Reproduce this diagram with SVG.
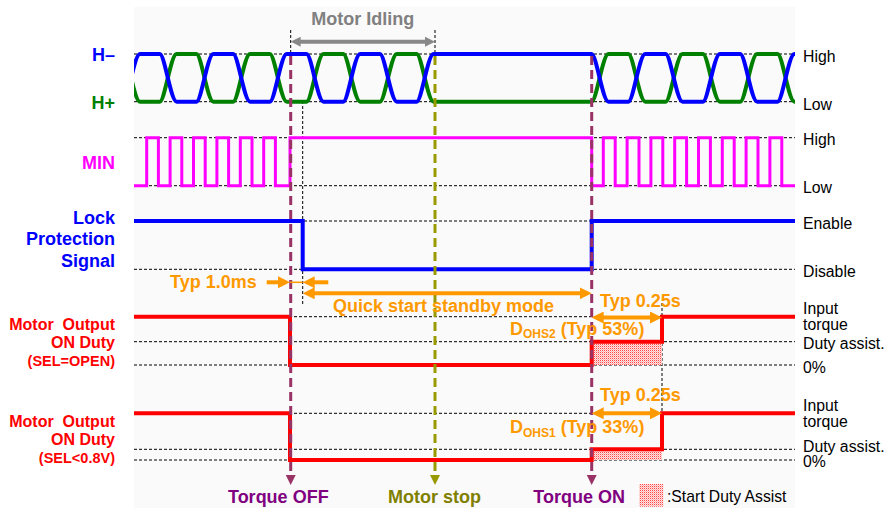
<svg xmlns="http://www.w3.org/2000/svg" width="885" height="508" viewBox="0 0 885 508">
<defs>
<style>
text{font-family:"Liberation Sans",Arial,sans-serif}
.lbl{font-size:18px;font-weight:bold;text-anchor:end}
.mo{font-size:16px;font-weight:bold;text-anchor:end;fill:#FF0000}
.mos{font-size:14.5px;font-weight:bold;text-anchor:end;fill:#FF0000}
.rl{font-size:15.8px;fill:#000}
.or{font-size:18px;font-weight:bold;fill:#FF9900}
.bt{font-size:18px;font-weight:bold;text-anchor:middle}
.grid{stroke:#000;stroke-width:1;stroke-dasharray:3 2;fill:none}
.sig{fill:none;stroke-width:4}
.vd{fill:none;stroke-width:3;stroke-dasharray:9 5}
.oa{stroke:#FF9900;stroke-width:4;fill:none}
</style>
<pattern id="hatch" width="2" height="2" patternUnits="userSpaceOnUse"><rect width="2" height="2" fill="#FFE2E2"/><rect width="1" height="1" fill="#FF4848"/><rect x="1" y="1" width="1" height="1" fill="#FFB4B4"/></pattern>
<marker id="mOr" viewBox="0 0 12 12" refX="4" refY="6" markerWidth="12" markerHeight="12" markerUnits="userSpaceOnUse" orient="auto-start-reverse"><path d="M0,0L12,6L0,12z" fill="#FF9900"/></marker>
<marker id="mGr" viewBox="0 0 10 10" refX="3" refY="5" markerWidth="10" markerHeight="10" markerUnits="userSpaceOnUse" orient="auto-start-reverse"><path d="M0,0L10,5L0,10z" fill="#888888"/></marker>
<marker id="mPu" viewBox="0 0 10 10" refX="2" refY="5" markerWidth="10" markerHeight="10" markerUnits="userSpaceOnUse" orient="auto"><path d="M0,0L10,5L0,10z" fill="#993366"/></marker>
<marker id="mOl" viewBox="0 0 10 10" refX="2" refY="5" markerWidth="10" markerHeight="10" markerUnits="userSpaceOnUse" orient="auto"><path d="M0,0L10,5L0,10z" fill="#999900"/></marker>
<clipPath id="clipW"><rect x="134" y="40" width="661" height="80"/></clipPath>
</defs>

<rect id="panel" x="134" y="7" width="661" height="501" fill="#FAFAFA"/>

<g id="gridlines" class="grid">
<path d="M134,54H795M134,101.7H795M134,137.7H795M134,185.7H795M134,221H795M134,269.3H795M134,316.7H795M134,341.7H795M134,365H795M134,413.3H795M134,449.3H795M134,460H795"/>
<path d="M290.7,30V56M435,30V56M302.7,101V306M662,303V413"/>
</g>

<g id="hall" clip-path="url(#clipW)">
<path class="sig" stroke="#008000" d="M120,54L123,54C128,54 134,101.7 140,101.7L159.7,101.7C164.7,101.7 170.7,54 176.7,54L196.4,54C201.4,54 207.4,101.7 213.4,101.7L233.1,101.7C238.1,101.7 244.1,54 250.1,54L269.8,54C274.8,54 280.8,101.7 286.8,101.7L306.5,101.7C311.5,101.7 317.5,54 323.5,54L343.2,54C348.2,54 354.2,101.7 360.2,101.7L379.9,101.7C384.9,101.7 390.9,54 396.9,54L416.6,54C421.6,54 427.6,101.7 433.6,101.7L591.5,101.7C596.5,101.7 602.5,54 608.5,54L628.3,54C633.3,54 639.3,101.7 645.3,101.7L665.6,101.7C670.6,101.7 676.6,54 682.6,54L702.9,54C707.9,54 713.9,101.7 719.9,101.7L740.2,101.7C745.2,101.7 751.2,54 757.2,54L777.5,54C782.5,54 788.5,101.7 794.5,101.7L800,101.7"/>
<path class="sig" stroke="#0000FF" d="M120,101.7L123,101.7C128,101.7 134,54 140,54L159.7,54C164.7,54 170.7,101.7 176.7,101.7L196.4,101.7C201.4,101.7 207.4,54 213.4,54L233.1,54C238.1,54 244.1,101.7 250.1,101.7L269.8,101.7C274.8,101.7 280.8,54 286.8,54L306.5,54C311.5,54 317.5,101.7 323.5,101.7L343.2,101.7C348.2,101.7 354.2,54 360.2,54L379.9,54C384.9,54 390.9,101.7 396.9,101.7L416.6,101.7C421.6,101.7 427.6,54 433.6,54L591.5,54C596.5,54 602.5,101.7 608.5,101.7L628.3,101.7C633.3,101.7 639.3,54 645.3,54L665.6,54C670.6,54 676.6,101.7 682.6,101.7L702.9,101.7C707.9,101.7 713.9,54 719.9,54L740.2,54C745.2,54 751.2,101.7 757.2,101.7L777.5,101.7C782.5,101.7 788.5,54 794.5,54L800,54"/>
</g>

<g id="min">
<path fill="none" stroke="#FF00FF" stroke-width="3" d="M134,185.7H146.7V137.7H158.4V185.7H170.1V137.7H181.8V185.7H193.5V137.7H205.2V185.7H216.9V137.7H228.6V185.7H240.3V137.7H252V185.7H263.7V137.7H275.4V185.7H290V137.7H591.7V185.7H603.3V137.7H615.2V185.7H627.1V137.7H639V185.7H650.9V137.7H662.8V185.7H674.7V137.7H686.6V185.7H698.5V137.7H710.4V185.7H722.3V137.7H734.2V185.7H746.1V137.7H758V185.7H769.9V137.7H781.8V185.7H795"/>
</g>

<g id="lock">
<path class="sig" stroke="#0000FF" d="M134,221H302.7V269.3H591.7V221H795"/>
</g>

<g id="duty-open">
<rect x="591.7" y="341.7" width="70.3" height="23.3" fill="url(#hatch)"/>
<path class="sig" stroke="#FF0000" d="M134,316.7H290V365H591.7V341.7H662V316.7H795"/>
</g>

<g id="duty-low">
<rect x="591.7" y="449.3" width="70.3" height="10.7" fill="url(#hatch)"/>
<path class="sig" stroke="#FF0000" d="M134,413.3H290V460H591.7V449.3H662V413.3H795"/>
</g>

<g id="connectors">
<path class="vd" stroke="#993366" d="M290.7,56V477" marker-end="url(#mPu)"/>
<path class="vd" stroke="#993366" d="M591.7,56V477" marker-end="url(#mPu)"/>
<path class="vd" stroke="#999900" d="M435,56V477" marker-end="url(#mOl)"/>
<path stroke="#888888" stroke-width="4" fill="none" d="M297.7,41.7H428" marker-start="url(#mGr)" marker-end="url(#mGr)"/>
<path class="oa" d="M310.7,293.3H583.7" marker-start="url(#mOr)" marker-end="url(#mOr)"/>
<path class="oa" d="M599.7,317.5H654" marker-start="url(#mOr)" marker-end="url(#mOr)"/>
<path class="oa" d="M599.7,413.3H654" marker-start="url(#mOr)" marker-end="url(#mOr)"/>
<path class="oa" d="M266.7,282.3H282" marker-end="url(#mOr)"/>
<path class="oa" d="M328.3,282.3H310.7" marker-end="url(#mOr)"/>
<path stroke="#FF9900" stroke-width="1.5" d="M290,282.3H302.7"/>
</g>

<g id="labels-left">
<text class="lbl" x="115" y="61" fill="#0000FF">H–</text>
<text class="lbl" x="115" y="109" fill="#008000">H+</text>
<text class="lbl" x="115" y="169" fill="#FF00FF">MIN</text>
<text class="lbl" x="115" y="223.5" fill="#0000FF">Lock</text>
<text class="lbl" x="115" y="245" fill="#0000FF">Protection</text>
<text class="lbl" x="115" y="266.5" fill="#0000FF">Signal</text>
<text class="mo" x="115" y="330" xml:space="preserve">Motor  Output</text>
<text class="mo" x="115" y="348">ON Duty</text>
<text class="mos" x="115" y="366">(SEL=OPEN)</text>
<text class="mo" x="115" y="426.5" xml:space="preserve">Motor  Output</text>
<text class="mo" x="115" y="445">ON Duty</text>
<text class="mos" x="115" y="463">(SEL&lt;0.8V)</text>
</g>

<g id="labels-right">
<text class="rl" x="803" y="61.5">High</text>
<text class="rl" x="803" y="109.5">Low</text>
<text class="rl" x="803" y="145">High</text>
<text class="rl" x="803" y="193">Low</text>
<text class="rl" x="803" y="228.5">Enable</text>
<text class="rl" x="803" y="276.5">Disable</text>
<text class="rl" x="803" y="313.5">Input</text>
<text class="rl" x="803" y="329.5">torque</text>
<text class="rl" x="803" y="348.5">Duty assist.</text>
<text class="rl" x="803" y="372.5">0%</text>
<text class="rl" x="803" y="410.5">Input</text>
<text class="rl" x="803" y="426.5">torque</text>
<text class="rl" x="803" y="451.7">Duty assist.</text>
<text class="rl" x="803" y="467">0%</text>
</g>

<g id="annotations">
<text x="362.8" y="25" font-size="18" font-weight="bold" fill="#808080" text-anchor="middle">Motor Idling</text>
<text class="or" x="170" y="287.5">Typ 1.0ms</text>
<text class="or" x="333" y="311.5" font-size="18.5">Quick start standby mode</text>
<text class="or" x="600" y="306.5">Typ 0.25s</text>
<text class="or" x="510" y="335">D<tspan font-size="12" dy="3.3">OHS2</tspan><tspan dy="-3.3"> (Typ 53%)</tspan></text>
<text class="or" x="600" y="400.7">Typ 0.25s</text>
<text class="or" x="510" y="433.3">D<tspan font-size="12" dy="3.3">OHS1</tspan><tspan dy="-3.3"> (Typ 33%)</tspan></text>
</g>

<g id="events">
<text class="bt" x="278.3" y="503" fill="#800080">Torque OFF</text>
<text class="bt" x="434.5" y="503" fill="#808000">Motor stop</text>
<text class="bt" x="579.2" y="503" fill="#800080">Torque ON</text>
</g>

<g id="legend">
<rect x="639.3" y="484" width="24" height="22.7" fill="url(#hatch)"/>
<text x="667" y="501.5" font-size="15.7" fill="#000">:Start Duty Assist</text>
</g>
</svg>
